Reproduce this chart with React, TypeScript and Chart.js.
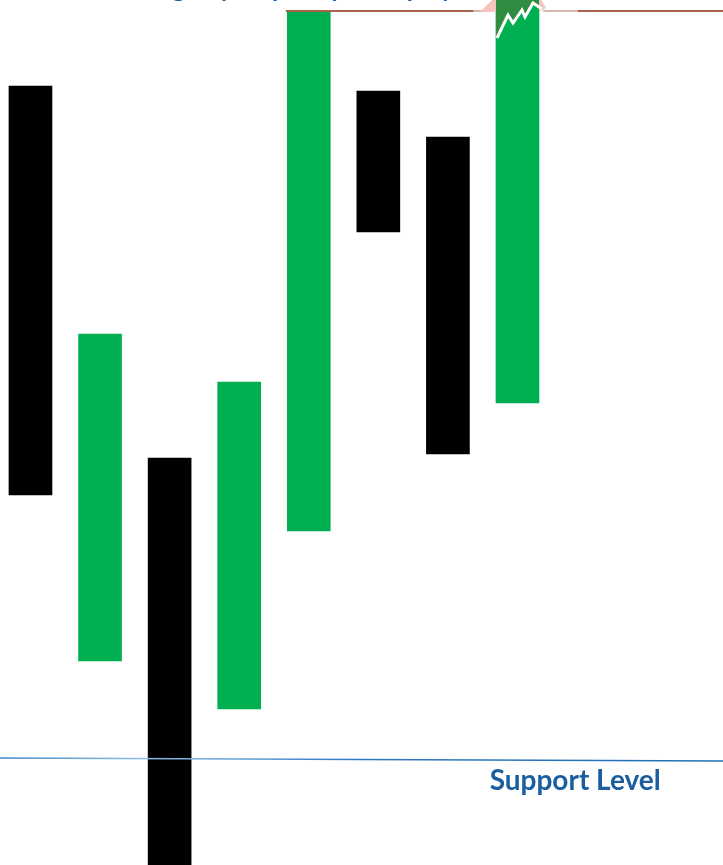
import React, { useEffect, useRef } from "react";
import { Chart, registerables } from "chart.js";

Chart.register(...registerables);

const candleIndex = [0, 1, 2, 3, 4, 5, 6, 7];
const candleLow = [370, 204, -20, 156, 334, 633, 411, 462];
const candleHigh = [779, 531, 407, 483, 853, 774, 728, 880];
const candleBull = [false, true, false, true, true, false, false, true];
const supportLevel = [107, 104];
const resistanceLevel = 854;
const supportLabel = "Support Level";
const topLabel = "Strong buyers push price up by";

const GREEN = "#00b050";
const BLACK = "#000000";

const overlay = {
  id: "overlay",
  afterDatasetsDraw(chart: any) {
    const { ctx, scales } = chart;
    const xs = scales.x;
    const ys = scales.y;
    const W = chart.width;
    ctx.save();

    // support line
    const grad = ctx.createLinearGradient(0, 0, W, 0);
    grad.addColorStop(0, "#3f86c6");
    grad.addColorStop(0.2, "#8fbde4");
    grad.addColorStop(0.5, "#2e78c0");
    grad.addColorStop(1, "#1f6fb8");
    ctx.strokeStyle = grad;
    ctx.lineWidth = 1.3;
    ctx.beginPath();
    ctx.moveTo(xs.left, ys.getPixelForValue(supportLevel[0]));
    ctx.lineTo(xs.right, ys.getPixelForValue(supportLevel[1]));
    ctx.stroke();

    // support label
    ctx.fillStyle = "#1a5e9f";
    ctx.font = "bold 28px Lato, 'DejaVu Sans', sans-serif";
    ctx.textBaseline = "alphabetic";
    ctx.textAlign = "left";
    ctx.fillText(supportLabel, xs.getPixelForValue(6.6), ys.getPixelForValue(75));

    // top cut-off label
    ctx.fillStyle = "#1a64ad";
    ctx.font = "bold 25px Lato, 'DejaVu Sans', sans-serif";
    ctx.fillText(topLabel, 112, -3);

    // resistance line
    const ry = ys.getPixelForValue(resistanceLevel);
    const x0 = xs.getPixelForValue(3.67);
    const g0 = xs.getPixelForValue(6.37);
    const g1 = xs.getPixelForValue(6.5);
    const g2 = xs.getPixelForValue(7.37);
    const g3 = xs.getPixelForValue(7.87);
    ctx.lineWidth = 2;
    ctx.strokeStyle = "#a8614c";
    ctx.beginPath();
    ctx.moveTo(x0, ry);
    ctx.lineTo(g0, ry);
    ctx.moveTo(g3, ry);
    ctx.lineTo(xs.right, ry);
    ctx.stroke();
    ctx.strokeStyle = "#d9b7ae";
    ctx.beginPath();
    ctx.moveTo(g0, ry);
    ctx.lineTo(g1, ry);
    ctx.moveTo(g2, ry);
    ctx.lineTo(g3, ry);
    ctx.stroke();

    // arrow on last bar
    const bl = xs.getPixelForValue(candleIndex[7]) - 21.5;
    const bt = ys.getPixelForValue(candleHigh[7]);
    const top = Math.max(bt, 0);
    ctx.fillStyle = "#f5c4be";
    ctx.beginPath();
    ctx.moveTo(bl - 16, top + 12);
    ctx.lineTo(bl, top - 4);
    ctx.lineTo(bl, top + 12);
    ctx.closePath();
    ctx.fill();
    ctx.beginPath();
    ctx.moveTo(bl + 43, top - 4);
    ctx.lineTo(bl + 50, top + 8);
    ctx.lineTo(bl + 43, top + 12);
    ctx.closePath();
    ctx.fill();

    const zig = [
      [1, 38], [12, 15], [17, 23], [26, 10], [29, 17], [37, 3], [46, 9],
    ];
    ctx.fillStyle = "#2f8c40";
    ctx.beginPath();
    ctx.moveTo(bl, top);
    ctx.lineTo(bl, top + 38);
    zig.forEach(([dx, dy]) => ctx.lineTo(bl + Math.min(dx, 43), top + dy));
    ctx.lineTo(bl + 43, top);
    ctx.closePath();
    ctx.fill();
    ctx.strokeStyle = "#ffffff";
    ctx.lineWidth = 3;
    ctx.lineJoin = "miter";
    ctx.beginPath();
    zig.forEach(([dx, dy], i) => {
      if (i === 0) ctx.moveTo(bl + dx, top + dy);
      else ctx.lineTo(bl + dx, top + dy);
    });
    ctx.stroke();

    ctx.restore();
  },
};

export default function App() {
  const ref = useRef<HTMLCanvasElement | null>(null);
  useEffect(() => {
    document.body.style.margin = "0";
    const data = candleIndex.map((i) => ({ x: i, y: [candleLow[i], candleHigh[i]] }));
    const chart = new Chart(ref.current as HTMLCanvasElement, {
      type: "bar",
      data: {
        datasets: [
          {
            data: data as any,
            backgroundColor: candleBull.map((b) => (b ? GREEN : BLACK)),
            borderWidth: 0,
            borderSkipped: false,
            barThickness: 43,
          },
        ],
      },
      options: {
        animation: false,
        responsive: true,
        maintainAspectRatio: false,
        layout: { padding: 0 },
        plugins: { legend: { display: false }, tooltip: { enabled: false } },
        scales: {
          x: { type: "linear", min: -0.438, max: 9.954, display: false, offset: false },
          y: { type: "linear", min: 0, max: 865, display: false },
        },
      },
      plugins: [overlay],
    });
    return () => chart.destroy();
  }, []);
  return (
    <div style={{ width: 723, height: 865, position: "relative" }}>
      <canvas ref={ref} />
    </div>
  );
}
